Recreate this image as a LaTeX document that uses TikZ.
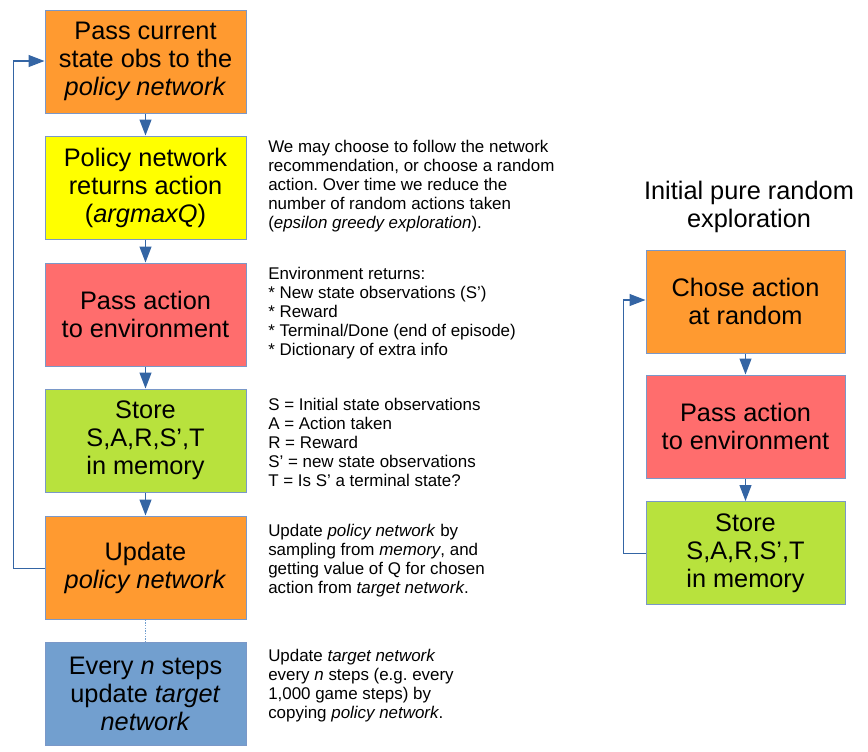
\documentclass[tikz,border=0pt]{standalone}
\usepackage{fontspec}
\setmainfont{Liberation Sans}
\usetikzlibrary{arrows.meta}
\frenchspacing
\definecolor{borderc}{HTML}{7A98C8}
\definecolor{arrowc}{HTML}{3465A4}
\definecolor{orangec}{HTML}{FF9A30}
\definecolor{yellowc}{HTML}{FFFF00}
\definecolor{redc}{HTML}{FF6D6D}
\definecolor{greenc}{HTML}{B8E23D}
\definecolor{bluec}{HTML}{729FCF}
\tikzset{
  box/.style={draw=borderc, line width=0.75pt, minimum width=150.75pt, minimum height=77.25pt,
    inner sep=0pt, align=center, font=\fontsize{19}{21}\selectfont, text=black},
  note/.style={anchor=west, align=left, inner sep=0pt, font=\fontsize{12.7}{14.25}\selectfont},
  arr/.style={draw=arrowc, line width=0.9pt, -{Triangle[width=9pt,length=12pt]}},
  link/.style={draw=arrowc, line width=0.75pt}
}
\begin{document}
\begin{tikzpicture}[x=0.75pt,y=-0.75pt]
\useasboundingbox (0,0) rectangle (868,751);
% left column
\node[box, fill=orangec] (b1) at (145.5,61.5) {Pass current\\state obs to the\\\textit{policy network}};
\node[box, fill=yellowc] (b2) at (145.5,187.5) {Policy network\\returns action\\(\textit{argmaxQ})};
\node[box, fill=redc] (b3) at (145.5,314.5) {Pass action\\to environment};
\node[box, fill=greenc] (b4) at (145.5,440.5) {Store\\S,A,R,S’,T\\in memory};
\node[box, fill=orangec] (b5) at (145.5,567.5) {Update\\\textit{policy network}};
\node[box, fill=bluec] (b6) at (145.5,693.5) {Every \textit{n} steps\\update \textit{target}\\\textit{network}};
\draw[arr] (b1) -- (b2);
\draw[arr] (b2) -- (b3);
\draw[arr] (b3) -- (b4);
\draw[arr] (b4) -- (b5);
\draw[draw=bluec, line width=1pt, densely dotted] (b5) -- (b6);
\coordinate (l1) at (13,568);
\coordinate (l2) at (13,61);
\draw[link] (b5.west |- 0,568) -- (l1) -- (l2);
\draw[arr] (l2) -- (b1.west |- l2);
% notes
\node[note] (n1) at (268,186) {We may choose to follow the network\\recommendation, or choose a random\\action. Over time we reduce the\\number of random actions taken\\(\textit{epsilon greedy exploration}).};
\node[note] (n2) at (268,313.5) {Environment returns:\\* New state observations (S’)\\* Reward\\* Terminal/Done (end of episode)\\* Dictionary of extra info};
\node[note] (n3) at (268,442) {S = Initial state observations\\A = Action taken\\R = Reward\\S’ = new state observations\\T = Is S’ a terminal state?};
\node[note] (n4) at (268,560.5) {Update \textit{policy network} by\\sampling from \textit{memory}, and\\getting value of Q for chosen\\action from \textit{target network}.};
\node[note] (n5) at (268,686) {Update \textit{target network}\\every \textit{n} steps (e.g. every\\1,000 game steps) by\\copying \textit{policy network}.};
% right column
\node[align=center, inner sep=0pt, font=\fontsize{19}{21}\selectfont] (t) at (749,207) {Initial pure random\\exploration};
\node[box, fill=orangec, minimum width=149.25pt] (r1) at (745.5,301.5) {Chose action\\at random};
\node[box, fill=redc, minimum width=149.25pt] (r2) at (745.5,426.5) {Pass action\\to environment};
\node[box, fill=greenc, minimum width=149.25pt] (r3) at (745.5,553) {Store\\S,A,R,S’,T\\in memory};
\draw[arr] (r1) -- (r2);
\draw[arr] (r2) -- (r3);
\coordinate (m1) at (623,553);
\coordinate (m2) at (623,300);
\draw[link] (r3.west) -- (m1) -- (m2);
\draw[arr] (m2) -- (r1.west |- m2);
\end{tikzpicture}
\end{document}
